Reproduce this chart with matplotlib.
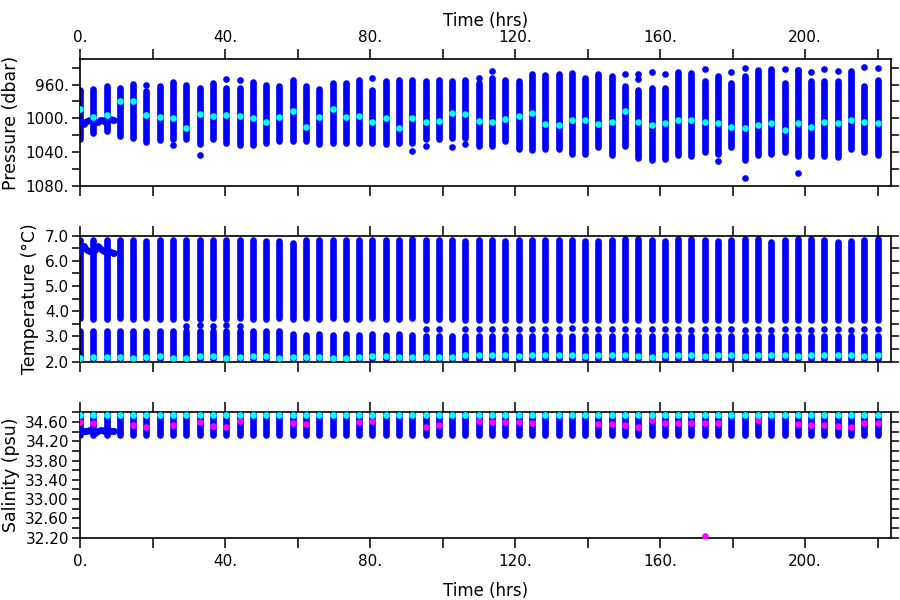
import numpy as np
import matplotlib
matplotlib.use("Agg")
import matplotlib.pyplot as plt
from matplotlib.ticker import MultipleLocator, FuncFormatter

# sample times of the profile columns (hrs)
hours = [0, 3.67, 7.33, 11, 14.67, 18.33, 22, 25.67, 29.33, 33, 36.67, 40.33, 44,
         47.67, 51.33, 55, 58.67, 62.33, 66, 69.67, 73.33, 77, 80.67, 84.33, 88,
         91.67, 95.33, 99, 102.67, 106.33, 110, 113.67, 117.33, 121, 124.67,
         128.33, 132, 135.67, 139.33, 143, 146.67, 150.33, 154, 157.67, 161.33,
         165, 168.67, 172.33, 176, 179.67, 183.33, 187, 190.67, 194.33, 198,
         201.67, 205.33, 209, 212.67, 216.33, 220]

# pressure (dbar): column top, column bottom, mean
p_top = [966, 965, 962, 964, 959, 968, 962, 957, 960, 964, 958, 964, 964, 957, 960,
         962, 955, 962, 965, 958, 958, 954, 967, 956, 954, 954, 956, 955, 956, 954,
         958, 952, 954, 956, 948, 949, 947, 946, 952, 948, 950, 962, 966, 964, 964,
         945, 946, 956, 950, 958, 950, 943, 942, 958, 943, 956, 956, 956, 944, 962,
         954]
p_bot = [1024, 1017, 1015, 1021, 1023, 1028, 1026, 1025, 1025, 1031, 1025, 1029,
         1032, 1032, 1029, 1027, 1027, 1027, 1030, 1029, 1029, 1029, 1029, 1031,
         1029, 1029, 1025, 1025, 1023, 1023, 1033, 1033, 1027, 1036, 1038, 1036,
         1036, 1042, 1042, 1034, 1044, 1033, 1047, 1049, 1048, 1044, 1045, 1040,
         1042, 1034, 1050, 1044, 1042, 1040, 1045, 1045, 1045, 1046, 1036, 1040,
         1044]
p_mean = [989, 999, 996, 979, 980, 996, 998, 1000, 1011, 995, 997, 996, 997, 1000,
          1004, 998, 991, 1010, 998, 989, 998, 997, 1005, 1000, 1011, 1000, 1004,
          1003, 994, 995, 1003, 1004, 1001, 997, 994, 1007, 1008, 1002, 1002, 1007,
          1004, 991, 1004, 1008, 1006, 1002, 1002, 1005, 1006, 1010, 1011, 1008,
          1006, 1014, 1006, 1010, 1004, 1006, 1002, 1004, 1006]
# isolated pressure readings above / below the columns
p_out_t = [18.33, 33, 40.33, 44, 80.67, 91.67, 95.33, 102.67, 106.33, 25.67, 110,
           113.67, 150.33, 154, 154, 157.67, 161.33, 172.33, 176, 179.67, 183.33,
           194.33, 198, 201.67, 205.33, 209, 216.33, 220, 183.33, 198]
p_out_p = [960, 1043, 953, 955, 952, 1039, 1033, 1034, 1031, 1032, 952, 944,
           948, 947, 953, 945, 947, 942, 1051, 945, 940, 942, 943, 945, 942, 944,
           939, 940, 1071, 1065]

# temperature (degC)
t_top = [6.84, 6.84, 6.84, 6.84, 6.84, 6.78, 6.84, 6.84, 6.84, 6.84, 6.84, 6.84,
         6.84, 6.84, 6.78, 6.78, 6.71, 6.84, 6.84, 6.84, 6.84, 6.84, 6.84, 6.84,
         6.84, 6.86, 6.84, 6.84, 6.84, 6.78, 6.84, 6.84, 6.78, 6.84, 6.84, 6.84,
         6.84, 6.84, 6.80, 6.80, 6.84, 6.86, 6.86, 6.84, 6.80, 6.86, 6.86, 6.84,
         6.80, 6.84, 6.86, 6.86, 6.76, 6.84, 6.86, 6.86, 6.84, 6.74, 6.80, 6.84,
         6.86]
t_upbot = [3.72, 3.70, 3.70, 3.72, 3.70, 3.72, 3.70, 3.70, 3.72, 3.70, 3.72, 3.70,
           3.72, 3.70, 3.70, 3.72, 3.70, 3.72, 3.70, 3.72, 3.70, 3.70, 3.72, 3.70,
           3.70, 3.72, 3.66, 3.68, 3.70, 3.64, 3.66, 3.66, 3.66, 3.64, 3.66, 3.64,
           3.64, 3.66, 3.64, 3.66, 3.64, 3.66, 3.64, 3.66, 3.64, 3.64, 3.66, 3.64,
           3.66, 3.64, 3.64, 3.66, 3.64, 3.66, 3.64, 3.66, 3.64, 3.66, 3.64, 3.66,
           3.64]
t_lowtop = [3.21, 3.20, 3.22, 3.20, 3.21, 3.20, 3.22, 3.20, 3.20, 3.21, 3.20, 3.22,
            3.20, 3.21, 3.20, 3.20, 3.08, 3.06, 3.08, 3.06, 3.08, 3.06, 3.08, 3.06,
            3.08, 3.06, 3.02, 3.00, 3.02, 3.00, 3.00, 3.00, 3.02, 3.00, 3.00, 3.00,
            3.02, 3.00, 3.00, 3.00, 3.00, 3.00, 3.00, 3.02, 3.00, 3.00, 3.00, 3.00,
            3.00, 3.02, 3.00, 3.00, 3.00, 3.00, 3.00, 3.00, 3.00, 3.00, 3.00, 3.00,
            3.00]
t_bot = [2.12] * 61
t_cyan = [2.13, 2.20, 2.20, 2.17, 2.16, 2.20, 2.23, 2.13, 2.13, 2.23, 2.23, 2.13,
          2.17, 2.23, 2.23, 2.13, 2.17, 2.20, 2.17, 2.14, 2.14, 2.17, 2.23, 2.23,
          2.20, 2.20, 2.20, 2.20, 2.20, 2.27, 2.27, 2.26, 2.27, 2.23, 2.27, 2.27,
          2.27, 2.27, 2.23, 2.26, 2.26, 2.27, 2.23, 2.20, 2.26, 2.27, 2.26, 2.23,
          2.27, 2.26, 2.23, 2.27, 2.26, 2.27, 2.23, 2.27, 2.26, 2.27, 2.26, 2.23,
          2.27]
# single readings inside the 3.2-3.7 gap
t_gap_t = [29.33, 33, 36.67, 40.33, 44, 95.33, 99, 106.33, 110, 113.67, 117.33,
           121, 124.67, 128.33, 132, 135.67, 139.33, 143, 146.67, 150.33, 154,
           157.67, 161.33, 165, 168.67, 172.33, 176, 179.67, 183.33, 187, 190.67,
           194.33, 198, 201.67, 205.33, 209, 212.67, 216.33, 220]
t_gap_v = [3.42, 3.45, 3.42, 3.44, 3.42, 3.30, 3.28, 3.30, 3.28, 3.28, 3.30, 3.28,
           3.30, 3.28, 3.30, 3.32, 3.28, 3.30, 3.28, 3.28, 3.26, 3.30, 3.28, 3.30,
           3.26, 3.28, 3.28, 3.30, 3.26, 3.28, 3.26, 3.28, 3.30, 3.26, 3.28, 3.30,
           3.26, 3.28, 3.28]

# salinity (psu)
s_top = [34.80] * 61
s_bot = [34.34] * 61
s_cyan = [34.74] * 61
s_mag = [34.60, 34.57, np.nan, np.nan, 34.53, 34.50, np.nan, 34.53, np.nan, 34.60,
         34.51, 34.50, 34.63, np.nan, np.nan, np.nan, 34.57, 34.55, np.nan, np.nan,
         np.nan, 34.59, 34.61, np.nan, np.nan, np.nan, 34.50, 34.53, np.nan, np.nan,
         34.61, 34.59, 34.60, 34.60, 34.57, np.nan, np.nan, np.nan, np.nan, 34.55,
         34.55, 34.53, 34.50, 34.64, 34.57, 34.57, 34.57, 34.57, 34.58, np.nan,
         np.nan, 34.64, np.nan, np.nan, 34.55, 34.53, 34.53, 34.51, 34.50, 34.57,
         34.58]
s_out_t = [172.33]
s_out_v = [32.23]

# first hours: high rate record
early_t = [0, 0.5, 1, 1.5, 2, 2.5, 3, 3.5, 4, 4.5, 5, 5.5, 6, 6.5, 7, 7.5, 8, 8.5,
           9, 9.5]
early_p = [1003, 1006, 1007, 1005, 1003, 1002, 1002, 1003, 1004, 1005, 1004, 1002,
           1002, 1003, 1004, 1003, 1002, 1001, 1002, 1002]
early_temp = [6.45, 6.55, 6.60, 6.50, 6.42, 6.40, 6.40, 6.42, 6.45, 6.55, 6.60,
              6.50, 6.42, 6.40, 6.40, 6.40, 6.38, 6.35, 6.32, 6.30]
early_s = [34.42, 34.42, 34.41, 34.41, 34.42, 34.43, 34.42, 34.40, 34.38, 34.40,
           34.42, 34.43, 34.43, 34.42, 34.42, 34.43, 34.43, 34.42, 34.42, 34.42]

BLUE = "#0000ff"
CYAN = "#00ffff"
MAG = "#ff00ff"
LW = 4.8          # column width (pt)
MS = LW ** 2      # dot size

fig = plt.figure(figsize=(9, 6), dpi=100)
ax1 = fig.add_axes([0.0889, 0.6905, 0.9011, 0.2107])
ax2 = fig.add_axes([0.0889, 0.3972, 0.9011, 0.2100])
ax3 = fig.add_axes([0.0889, 0.1038, 0.9011, 0.2090])


def columns(ax, lo, hi):
    ax.vlines(hours, lo, hi, colors=BLUE, linewidth=LW, capstyle="round", zorder=2)


def dots(ax, x, y, c, z=3):
    ax.scatter(x, y, s=MS, c=c, linewidths=0, zorder=z)


# pressure
columns(ax1, p_top, p_bot)
dots(ax1, p_out_t, p_out_p, BLUE)
dots(ax1, early_t, early_p, BLUE)
dots(ax1, hours, p_mean, CYAN, 5)
ax1.set_ylim(1080, 930)
ax1.yaxis.set_major_locator(MultipleLocator(40))
ax1.yaxis.set_minor_locator(MultipleLocator(20))
ax1.yaxis.set_major_formatter(FuncFormatter(lambda v, p: "%d." % v))
ax1.set_ylabel("Pressure (dbar)")

# temperature
columns(ax2, t_upbot, t_top)
columns(ax2, t_bot, t_lowtop)
dots(ax2, t_gap_t, t_gap_v, BLUE)
dots(ax2, early_t, early_temp, BLUE)
dots(ax2, hours, t_cyan, CYAN, 5)
ax2.set_ylim(2.0, 7.0)
ax2.yaxis.set_major_locator(MultipleLocator(1))
ax2.yaxis.set_minor_locator(MultipleLocator(0.5))
ax2.yaxis.set_major_formatter(FuncFormatter(lambda v, p: "%.1f" % v))
ax2.set_ylabel("Temperature (°C)")

# salinity
columns(ax3, s_bot, s_top)
dots(ax3, early_t, early_s, BLUE)
dots(ax3, hours, s_mag, MAG, 4)
dots(ax3, s_out_t, s_out_v, MAG, 4)
dots(ax3, hours, s_cyan, CYAN, 5)
ax3.set_ylim(32.2, 34.8)
ax3.set_yticks([32.2, 32.6, 33.0, 33.4, 33.8, 34.2, 34.6])
ax3.yaxis.set_minor_locator(MultipleLocator(0.2))
ax3.yaxis.set_major_formatter(FuncFormatter(lambda v, p: "%.2f" % v))
ax3.set_ylabel("Salinity (psu)")

for ax in (ax1, ax2, ax3):
    ax.set_xlim(0, 223.7)
    ax.xaxis.set_major_locator(MultipleLocator(40))
    ax.xaxis.set_minor_locator(MultipleLocator(20))
    ax.xaxis.set_major_formatter(FuncFormatter(lambda v, p: "%d." % v))
    ax.tick_params(axis="x", which="both", direction="out", length=7, width=1.1,
                   top=True, bottom=True, labeltop=False, labelbottom=False,
                   labelsize=11, pad=3)
    ax.tick_params(axis="y", which="both", direction="out", length=5.5, width=1.1,
                   left=True, right=True, labelsize=11, pad=2.5)
    for s in ax.spines.values():
        s.set_linewidth(1.2)
    ax.yaxis.label.set_size(12.5)
    ax.yaxis.labelpad = 4

ax1.tick_params(axis="x", labeltop=True)
ax1.xaxis.set_label_position("top")
ax1.set_xlabel("Time (hrs)", fontsize=12, labelpad=3)
ax3.tick_params(axis="x", labelbottom=True, pad=5)
ax3.set_xlabel("Time (hrs)", fontsize=12, labelpad=9)

fig.savefig("out.png", dpi=100)
